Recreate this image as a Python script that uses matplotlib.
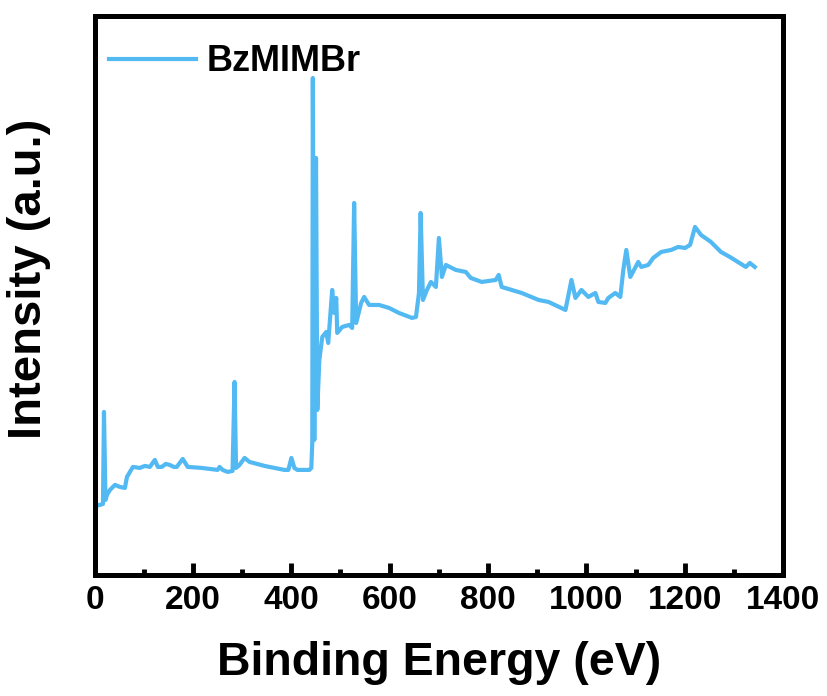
import matplotlib
matplotlib.use('Agg')
import matplotlib.pyplot as plt
from matplotlib.ticker import MultipleLocator

plt.rcParams['font.family'] = ['Liberation Sans', 'DejaVu Sans']
plt.rcParams['font.weight'] = 'bold'

# XPS survey
energy = [1.0, 5.1, 11.1, 17.2, 19.2, 22.3, 25.3, 31.4, 41.5, 51.6, 61.8, 65.9, 78.0,
          92.2, 102.3, 112.5, 122.6, 128.7, 136.8, 144.9, 153.0, 161.1, 167.2, 179.3,
          189.5, 217.8, 250.2, 254.3, 260.4, 270.5, 280.6, 284.7, 287.7, 294.8, 305.0,
          315.1, 345.5, 386.0, 394.1, 400.2, 406.3, 412.3, 436.7, 440.7, 442.7, 443.8,
          446.8, 450.3, 452.9, 457.0, 463.0, 471.1, 475.1, 483.2, 487.3, 491.4, 493.4,
          503.5, 517.7, 523.8, 527.8, 531.9, 542.0, 548.1, 558.2, 578.5, 598.8, 619.0,
          645.4, 653.5, 659.6, 663.0, 667.7, 675.8, 683.9, 694.0, 700.1, 706.2, 714.3,
          734.5, 754.8, 764.9, 787.2, 815.6, 821.7, 827.7, 868.3, 902.7, 923.0, 957.4,
          969.6, 977.7, 989.9, 1004.0, 1018.2, 1024.3, 1038.5, 1044.6, 1058.8, 1068.9,
          1075.0, 1081.1, 1089.2, 1105.4, 1111.5, 1125.7, 1135.8, 1152.0, 1172.2,
          1186.4, 1200.6, 1210.7, 1220.8, 1233.0, 1253.2, 1273.5, 1291.7, 1307.9,
          1324.1, 1332.2, 1342.3]
intensity = [63, 70, 70, 71, 163, 75, 80, 85, 90, 88, 87, 98, 108,
             107, 109, 108, 115, 108, 108, 111, 110, 108, 108, 116,
             108, 107, 105, 108, 105, 103, 104, 193, 107, 110, 117,
             113, 109, 105, 105, 117, 107, 105, 105, 107, 132, 497,
             135, 417, 165, 215, 238, 243, 232, 285, 262, 277, 242,
             248, 250, 247, 372, 252, 272, 278, 270, 270, 267, 262,
             257, 258, 282, 362, 275, 285, 293, 288, 337, 298, 310,
             305, 303, 297, 293, 295, 300, 288, 282, 275, 273, 265,
             295, 277, 285, 278, 282, 273, 272, 277, 282, 278,
             305, 325, 298, 313, 308, 310, 317, 323, 325,
             328, 327, 330, 348, 340, 333, 323, 318, 313,
             308, 312, 308]
label = 'BzMIMBr'

fig = plt.figure(figsize=(8.27, 6.96), dpi=100)
ax = fig.add_axes([0.1143, 0.174, 0.8327, 0.803])
ax.plot(energy, intensity, color='#52B9F3', linewidth=3.0, label=label,
        solid_joinstyle='round')

ax.set_xlim(0, 1400)
ax.set_ylim(0, 559)
ax.xaxis.set_major_locator(MultipleLocator(200))
ax.xaxis.set_minor_locator(MultipleLocator(100))
ax.set_yticks([])
ax.tick_params(axis='x', which='major', direction='in', length=9, width=3.5,
               labelsize=24, pad=7)
ax.tick_params(axis='x', which='minor', direction='in', length=4, width=3.5)
for s in ax.spines.values():
    s.set_linewidth(3.6)

ax.set_xlabel('Binding Energy (eV)', fontsize=33.5, fontweight='bold', labelpad=18)
ax.set_ylabel('Intensity (a.u.)', fontsize=34, fontweight='bold')
ax.yaxis.set_label_coords(-0.063, 0.53)

ax.legend(loc='upper left', frameon=False, fontsize=26, handlelength=2.4,
          handletextpad=0.3, borderaxespad=0.0, bbox_to_anchor=(0.0, 0.975))

fig.savefig('out.png', dpi=100)
